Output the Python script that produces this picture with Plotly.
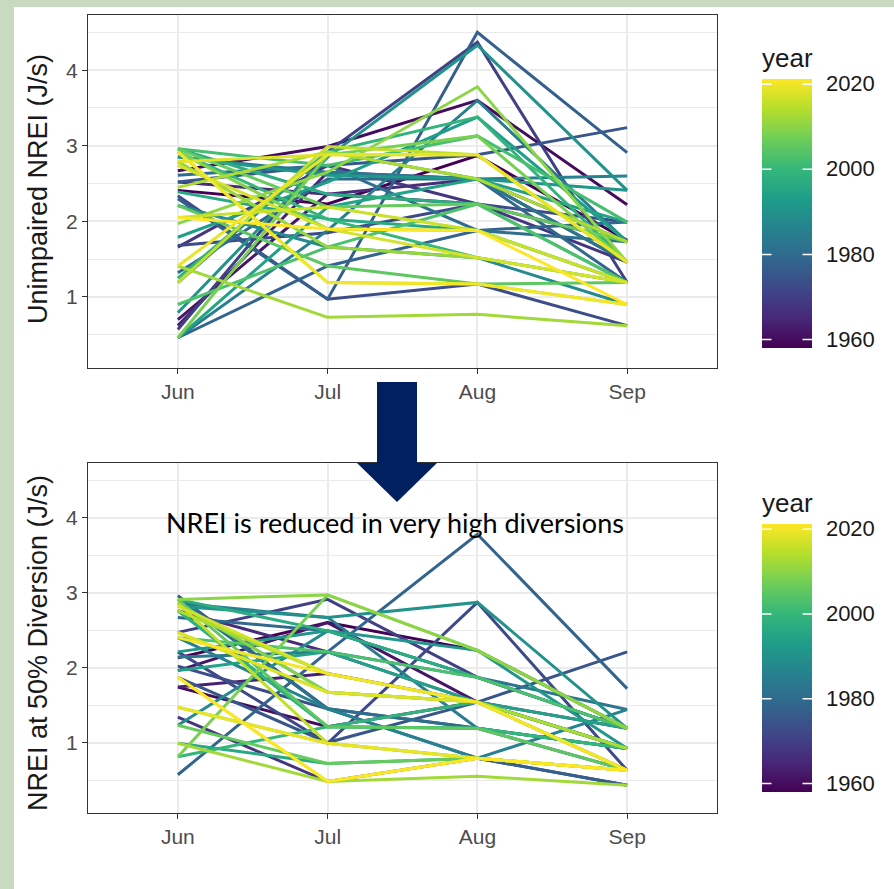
import plotly.graph_objects as go
from plotly.colors import sample_colorscale

# ---------------- data ----------------
months = ["Jun", "Jul", "Aug", "Sep"]
years = [1958, 1960, 1962, 1964, 1966, 1968, 1970, 1972, 1973, 1975, 1977, 1978,
         1979, 1981, 1983, 1985, 1986, 1988, 1990, 1991, 1993, 1994, 1996, 1997,
         1999, 2000, 2002, 2003, 2005, 2006, 2008, 2009, 2010, 2011, 2012, 2013,
         2014, 2015, 2016, 2017, 2018, 2019, 2020, 2021]

# Unimpaired NREI (J/s)
unimp_jun = [2.41, 2.67, 0.70, 0.62, 2.52, 1.66, 0.57, 1.68, 2.34, 2.52, 2.30, 0.46,
             1.32, 2.61, 2.85, 0.46, 1.19, 2.21, 0.79, 2.85, 1.79, 0.46, 2.39, 2.96,
             1.25, 2.92, 2.96, 0.90, 2.21, 2.96, 0.46, 2.92, 1.97, 2.79, 1.41, 2.45,
             2.92, 1.19, 2.05, 2.74, 2.79, 1.41, 2.92, 2.05]
unimp_jul = [2.23, 2.99, 2.36, 2.65, 2.36, 2.74, 2.92, 1.85, 0.97, 2.74, 0.97, 1.41,
             2.56, 2.74, 2.65, 1.88, 2.92, 1.66, 2.85, 2.61, 2.52, 2.19, 2.03, 2.36,
             2.92, 2.03, 2.74, 1.66, 1.41, 2.19, 2.88, 1.90, 2.65, 1.66, 0.73, 2.92,
             1.19, 2.99, 2.19, 1.90, 2.88, 2.88, 1.19, 1.90]
unimp_aug = [2.87, 3.60, 2.23, 2.56, 2.56, 2.23, 4.37, 2.23, 1.17, 2.88, 4.50, 1.88,
             2.56, 1.88, 2.56, 3.60, 2.56, 1.52, 4.33, 2.56, 3.38, 2.56, 1.88, 2.23,
             3.38, 1.52, 3.13, 2.23, 1.17, 2.23, 3.13, 1.88, 3.78, 1.52, 0.77, 2.56,
             1.17, 2.88, 1.88, 1.52, 2.88, 2.88, 1.17, 1.88]
unimp_sep = [1.75, 2.22, 1.73, 1.46, 1.73, 1.46, 1.19, 1.99, 0.62, 3.24, 2.91, 1.99,
             1.19, 1.73, 1.46, 1.73, 2.60, 0.90, 2.41, 2.41, 1.73, 1.99, 1.19, 1.19,
             1.46, 1.19, 1.99, 1.19, 1.19, 1.73, 1.46, 1.19, 1.46, 1.19, 0.62, 1.73,
             0.90, 1.46, 1.19, 1.19, 1.46, 1.46, 0.90, 0.90]

# NREI at 50% Diversion (J/s)
div_jun = [2.13, 1.74, 1.96, 1.74, 2.76, 1.34, 2.47, 2.21, 2.02, 1.87, 2.96, 0.57,
           2.67, 2.91, 2.14, 2.86, 2.40, 1.23, 2.82, 2.21, 2.76, 1.96, 0.99, 2.91,
           2.76, 0.81, 2.86, 2.40, 2.91, 1.23, 0.81, 2.86, 2.91, 1.47, 0.99, 2.76,
           2.47, 2.86, 1.87, 2.82, 2.47, 1.47, 2.40, 1.87]
div_jul = [2.60, 1.21, 2.60, 1.92, 2.21, 0.48, 2.91, 0.99, 1.45, 1.00, 1.45, 2.21,
           2.49, 1.45, 2.21, 2.67, 1.45, 2.49, 2.67, 2.49, 1.21, 2.21, 0.72, 2.49,
           1.21, 1.21, 1.67, 2.21, 1.21, 0.72, 2.97, 1.67, 2.97, 0.99, 0.48, 1.92,
           1.67, 0.99, 0.48, 1.92, 1.67, 0.99, 1.92, 0.48]
div_aug = [2.23, 1.54, 1.54, 1.54, 1.54, 0.79, 1.87, 2.87, 1.19, 1.54, 0.79, 3.78,
           1.87, 1.19, 1.87, 1.19, 0.79, 1.87, 2.87, 2.23, 1.19, 1.54, 0.79, 1.87,
           1.54, 1.19, 1.54, 1.87, 1.19, 0.79, 2.23, 1.54, 2.23, 0.79, 0.55, 1.54,
           1.54, 0.79, 0.79, 1.54, 1.54, 0.79, 1.54, 0.79]
div_sep = [1.19, 0.92, 0.63, 1.19, 0.92, 0.43, 1.19, 0.63, 0.63, 2.21, 0.43, 1.72,
           1.19, 0.92, 1.44, 0.92, 1.44, 1.19, 1.19, 0.92, 0.92, 1.19, 0.63, 1.19,
           0.92, 0.92, 0.92, 1.19, 0.63, 0.63, 1.19, 0.63, 1.19, 0.63, 0.43, 0.92,
           0.63, 0.63, 0.63, 0.63, 0.63, 0.63, 0.63, 0.63]

year_ticks = [1960, 1980, 2000, 2020]
year_min, year_max = 1958, 2021
y_ticks = [1, 2, 3, 4]
y_minor = [0.5, 1.5, 2.5, 3.5, 4.5]

# ---------------- layout helpers ----------------
W, H = 894, 889
def fx(px):
    return px / W
def fy(px):
    return 1 - px / H

GREEN = "#c8dbc0"
GRID = "#ebebeb"
BORDER = "#333333"
TICKTXT = "#4d4d4d"
NAVY = "#002060"
FONT = "Liberation Sans, Arial, sans-serif"

fig = go.Figure()

def colour(yr):
    return sample_colorscale("Viridis", [(yr - year_min) / (year_max - year_min)])[0]

LW = 3
for i, yr in enumerate(years):
    fig.add_trace(go.Scatter(
        x=months, y=[unimp_jun[i], unimp_jul[i], unimp_aug[i], unimp_sep[i]],
        mode="lines", line=dict(color=colour(yr), width=LW),
        xaxis="x", yaxis="y", showlegend=False, name=str(yr)))
for i, yr in enumerate(years):
    fig.add_trace(go.Scatter(
        x=months, y=[div_jun[i], div_jul[i], div_aug[i], div_sep[i]],
        mode="lines", line=dict(color=colour(yr), width=LW),
        xaxis="x2", yaxis="y2", showlegend=False, name=str(yr)))

TITLE_GAP = 36   # space taken by the colourbar title above the bar
BAR_X = 762      # left edge of colour bars (px)
BAR_W = 50       # bar thickness (px)
# (axis x, axis y, title top px, bar bottom px)
bars = [("x", "y", 44, 348), ("x2", "y2", 489, 792)]
for xa, ya, ttop, bot in bars:
    fig.add_trace(go.Scatter(
        x=[months[0]], y=[1], mode="markers", xaxis=xa, yaxis=ya,
        showlegend=False, hoverinfo="skip",
        marker=dict(size=1, opacity=0, color=[year_min], cmin=year_min, cmax=year_max,
                    colorscale="Viridis", showscale=True,
                    colorbar=dict(
                        x=fx(BAR_X), xanchor="left", xpad=0,
                        y=fy(ttop), yanchor="top", ypad=0,
                        lenmode="pixels", len=bot - ttop,
                        thicknessmode="pixels", thickness=BAR_W,
                        outlinewidth=0,
                        tickvals=year_ticks, ticks="outside", ticklen=10,
                        tickcolor="rgba(0,0,0,0)",
                        tickfont=dict(size=22, color="#1a1a1a", family=FONT),
                        title=dict(text="year", side="top",
                                   font=dict(size=26, color="#1a1a1a", family=FONT)),
                    ))))

def xaxis_cfg(anchor):
    return dict(domain=[fx(88), fx(717)], anchor=anchor, type="category",
                categoryorder="array", categoryarray=months, range=[-0.6, 3.6],
                showgrid=True, gridcolor=GRID, gridwidth=1.6,
                ticks="outside", ticklen=5, tickwidth=1.3, tickcolor=BORDER,
                showline=True, mirror=True, linecolor=BORDER, linewidth=1.3,
                tickfont=dict(size=21, color=TICKTXT, family=FONT), zeroline=False)

def yaxis_cfg(anchor, top, bot):
    return dict(domain=[fy(bot), fy(top)], anchor=anchor, range=[0.06, 4.73],
                tickvals=y_ticks, showgrid=True, gridcolor=GRID, gridwidth=1.6,
                minor=dict(tickvals=y_minor, showgrid=True, gridcolor=GRID, gridwidth=1),
                ticks="outside", ticklen=5, tickwidth=1.3, tickcolor=BORDER,
                showline=True, mirror=True, linecolor=BORDER, linewidth=1.3,
                tickfont=dict(size=21, color=TICKTXT, family=FONT), zeroline=False)

shapes = [dict(type="rect", xref="paper", yref="paper", x0=fx(14), x1=1, y0=0, y1=fy(7),
               fillcolor="white", line=dict(width=0), layer="below")]

# arrow
arrow_pts = [(377, 382), (417, 382), (417, 463), (437, 463), (397, 502), (357, 463), (377, 463)]
path = "M " + " L ".join(f"{fx(a):.5f},{fy(b):.5f}" for a, b in arrow_pts) + " Z"
shapes.append(dict(type="path", xref="paper", yref="paper", path=path,
                   fillcolor=NAVY, line=dict(width=0), layer="above"))

annotations = [
    dict(text="Unimpaired NREI (J/s)", x=fx(38), y=fy(189), xref="paper", yref="paper",
         xanchor="center", yanchor="middle",
         textangle=-90, showarrow=False, font=dict(size=27, color="#1a1a1a", family=FONT)),
    dict(text="NREI at 50% Diversion (J/s)", x=fx(38), y=fy(643), xref="paper", yref="paper",
         xanchor="center", yanchor="middle",
         textangle=-90, showarrow=False, font=dict(size=27, color="#1a1a1a", family=FONT)),
    dict(text="NREI is reduced in very high diversions", x=fx(395), y=fy(522),
         xref="paper", yref="paper", showarrow=False, xanchor="center", yanchor="middle",
         font=dict(size=27, color="black", family="Lato, Open Sans, sans-serif")),
]

# white tick marks on both edges of the colour bars (ggplot style)
for xa, ya, ttop, bot in bars:
    top = ttop + TITLE_GAP
    for t in year_ticks:
        ypx = top + (year_max - t) * (bot - top) / (year_max - year_min)
        for x_edge, off in [(BAR_X, 11), (BAR_X + BAR_W, -11)]:
            annotations.append(dict(
                text="", x=fx(x_edge), y=fy(ypx), xref="paper", yref="paper",
                showarrow=True, ax=off, ay=0, arrowhead=0, arrowwidth=1.5,
                arrowcolor="white", standoff=0, startstandoff=0))

fig.update_layout(
    width=W, height=H, margin=dict(l=0, r=0, t=0, b=0),
    paper_bgcolor=GREEN, plot_bgcolor="white",
    xaxis=xaxis_cfg("y"), yaxis=yaxis_cfg("x", 15, 368),
    xaxis2=xaxis_cfg("y2"), yaxis2=yaxis_cfg("x2", 463, 813),
    shapes=shapes, annotations=annotations, showlegend=False,
)

fig.write_html("out.html", config={"displayModeBar": False},
               post_script="document.body.style.margin='0';document.body.style.overflow='hidden';")
